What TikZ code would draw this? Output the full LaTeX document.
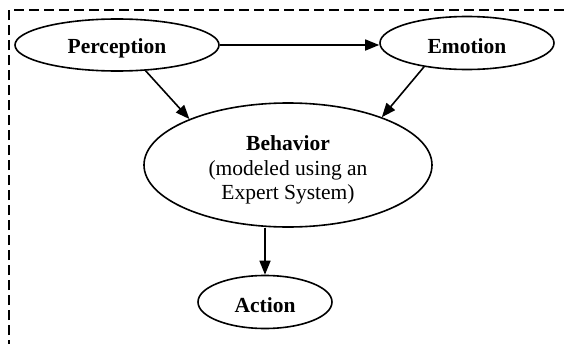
\documentclass[tikz,border=0pt]{standalone}
\usepackage{fontspec}
\setmainfont{Liberation Serif}
\usetikzlibrary{shapes.geometric,arrows.meta}
\newcommand{\lowr}[1]{\rule{0pt}{#1}}
\begin{document}
\begin{tikzpicture}[x=1pt,y=-1pt,
  stateellipse/.style={ellipse,draw,line width=1.6pt,inner sep=0pt,align=center,
    font=\fontsize{21.5}{24.5}\selectfont},
  conn/.style={line width=1.6pt,-{Triangle[length=14pt,width=11pt]}},
  frame/.style={line width=1.6pt,dash pattern=on 10pt off 5pt}]
\useasboundingbox (0,0) rectangle (568,343);
\fill[white] (0,0) rectangle (568,343);
\draw[frame] (9,350) -- (9,10) -- (575,10);
\node[stateellipse,minimum width=204pt,minimum height=52pt] (per) at (117,45) {\lowr{21pt}\textbf{Perception}};
\node[stateellipse,minimum width=174pt,minimum height=53pt] (emo) at (467,43) {\lowr{22pt}\textbf{Emotion}};
\node[stateellipse,minimum width=288pt,minimum height=124pt] (beh) at (288,165)
  {\lowr{25pt}\textbf{Behavior}\\(modeled using an\\Expert System)};
\node[stateellipse,minimum width=134pt,minimum height=53pt] (act) at (265,302) {\lowr{22pt}\textbf{Action}};
\coordinate (bs) at (act.north |- beh.south);
\draw[conn] (per.east) -- (per.east -| emo.west);
\draw[conn] (per.-42) -- (beh.155);
\draw[conn] (emo.209) -- (beh.27);
\draw[conn] (bs) -- (act.north);
\end{tikzpicture}
\end{document}
